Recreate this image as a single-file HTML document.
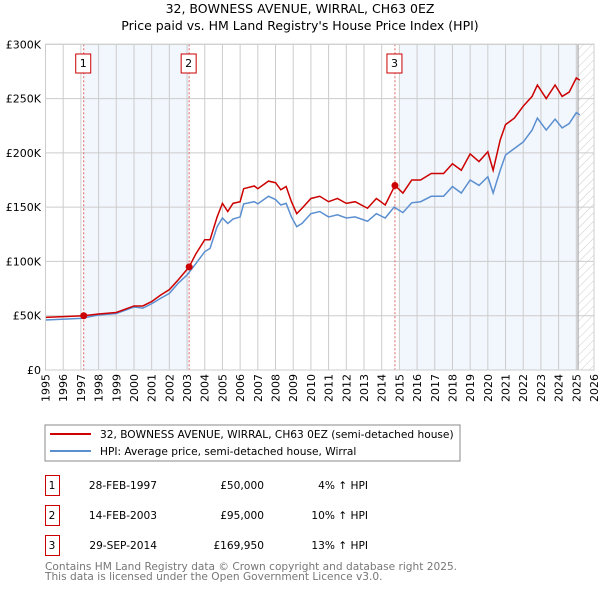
<!DOCTYPE html>
<html><head><meta charset="utf-8"><style>
body{margin:0;background:#fff;width:600px;height:590px;overflow:hidden;font-family:"DejaVu Sans","Liberation Sans",sans-serif}
svg text{font-family:"DejaVu Sans","Liberation Sans",sans-serif}
</style></head><body>
<svg id="c" width="600" height="590" viewBox="0 0 600 590">
<defs><pattern id="hatch" width="6" height="6" patternUnits="userSpaceOnUse" patternTransform="rotate(45)"><line x1="0" y1="0" x2="0" y2="6" stroke="#ccc" stroke-width="1"/></pattern></defs>
<text x="300" y="13" text-anchor="middle" font-size="12.5">32, BOWNESS AVENUE, WIRRAL, CH63 0EZ</text>
<text x="300" y="30" text-anchor="middle" font-size="12.5">Price paid vs. HM Land Registry's House Price Index (HPI)</text>
<g id="plot"></g>
<rect x="45" y="425" width="415" height="36" fill="none" stroke="#888"/>
<line x1="50" y1="434" x2="91" y2="434" stroke="#cc0000" stroke-width="2"/>
<text x="100" y="438" font-size="10.6">32, BOWNESS AVENUE, WIRRAL, CH63 0EZ (semi-detached house)</text>
<line x1="50" y1="451" x2="91" y2="451" stroke="#5b8fd0" stroke-width="2"/>
<text x="100" y="455" font-size="10.6">HPI: Average price, semi-detached house, Wirral</text>
<g id="tbl" font-size="10.6"></g>
<text x="45" y="570" font-size="10.6" fill="#777">Contains HM Land Registry data © Crown copyright and database right 2025.</text>
<text x="45" y="580" font-size="10.6" fill="#777">This data is licensed under the Open Government Licence v3.0.</text>
</svg>
<script>
const yearTicks=[1995,1996,1997,1998,1999,2000,2001,2002,2003,2004,2005,2006,2007,2008,2009,2010,2011,2012,2013,2014,2015,2016,2017,2018,2019,2020,2021,2022,2023,2024,2025,2026];
const valueTicks=[0,50,100,150,200,250,300];
const valueLabels=["£0","£50K","£100K","£150K","£200K","£250K","£300K"];
const hpiYears=[1995,1997,1998,1999,2000,2000.5,2001,2001.5,2002,2002.5,2003,2003.5,2004,2004.3,2004.7,2005,2005.3,2005.6,2006,2006.2,2006.8,2007,2007.6,2008,2008.3,2008.6,2008.9,2009.2,2009.5,2010,2010.5,2011,2011.5,2012,2012.5,2013.2,2013.7,2014.2,2014.7,2015.2,2015.7,2016.2,2016.8,2017.5,2018,2018.5,2019,2019.5,2020,2020.3,2020.7,2021,2021.5,2022,2022.5,2022.8,2023.3,2023.8,2024.2,2024.6,2025,2025.2];
const hpiValues=[46,47.6,50.7,52,58,57,61,66,70.6,80,87.5,98,109,112,132,140,135,139,141,153,155,153,160,157,152,153.5,141,132,135,144,146,141,143,140,141,137,144,140,150,145,154,155,160,160,169,163,175,170,178,163,184,198,204,210,221,232,221,231,223,227,237,235];
const propYears=[1995,1997.16,1998,1999,2000,2000.5,2001,2001.5,2002,2002.5,2003.12,2003.5,2004,2004.3,2004.7,2005,2005.3,2005.6,2006,2006.2,2006.8,2007,2007.6,2008,2008.3,2008.6,2008.9,2009.2,2009.5,2010,2010.5,2011,2011.5,2012,2012.5,2013.2,2013.7,2014.2,2014.75,2015.2,2015.7,2016.2,2016.8,2017.5,2018,2018.5,2019,2019.5,2020,2020.3,2020.7,2021,2021.5,2022,2022.5,2022.8,2023.3,2023.8,2024.2,2024.6,2025,2025.2];
const propValues=[48.5,50,51.6,53,59,59,63,69,74,83,95,107,120,120,141,153.5,146,153.5,155,167,169.5,167,174,172.5,166,169,155,144,149,158,160,155,158,153.5,155,149,158,152,170,163,175,175,181,181,190,184,199,192,201,184,212,226,232,243,252,262.5,250,262.5,252,256,269,267];
const saleLabels=["1","2","3"];
const saleYears=[1997.16,2003.12,2014.75];
const saleValues=[50,95,169.95];
const saleDates=["28-FEB-1997","14-FEB-2003","29-SEP-2014"];
const salePrices=["£50,000","£95,000","£169,950"];
const saleDiffs=["4% ↑ HPI","10% ↑ HPI","13% ↑ HPI"];

const NS="http://www.w3.org/2000/svg";
const X0=45.5,X1=594,Y0=370,Y1=44.3;
const xs=y=>X0+(y-1995)/(2026-1995)*(X1-X0);
const ys=v=>Y0-v/300*(Y0-Y1);
const plot=document.getElementById('plot');
function mk(tag,at,parent){const e=document.createElementNS(NS,tag);for(const k in at)e.setAttribute(k,at[k]);(parent||plot).appendChild(e);return e;}
let e;
e=mk('rect',{x:xs(saleYears[0]),y:Y1,width:xs(saleYears[1])-xs(saleYears[0]),height:Y0-Y1,fill:'#f2f6fd'});


e=mk('rect',{x:xs(2015),y:Y1,width:xs(2025.1)-xs(2015),height:Y0-Y1,fill:'#f2f6fd'});


e=mk('rect',{x:xs(2025.1),y:Y1,width:X1-xs(2025.1),height:Y0-Y1,fill:'url(#hatch)'});


yearTicks.forEach(yr=>{
  e=mk('line',{x1:xs(yr),x2:xs(yr),y1:Y1,y2:Y0,stroke:'#ccc'});
  
  
  const t=mk('text',{transform:`translate(${xs(yr)+4},${Y0+4}) rotate(-90)`,'text-anchor':'end','font-size':'11'});
  t.textContent=yr;
  
  
});
valueTicks.forEach((v,i)=>{
  e=mk('line',{x1:X0,x2:X1,y1:ys(v),y2:ys(v),stroke:'#ccc'});
  
  
  const t=mk('text',{x:41,y:ys(v)+4,'text-anchor':'end','font-size':'11'});
  t.textContent=valueLabels[i];
  
  
});
e=mk('line',{x1:xs(2025.1),x2:xs(2025.1),y1:Y1,y2:Y0,stroke:'#999'});


saleYears.forEach((yr,i)=>{
  e=mk('line',{x1:xs(yr),x2:xs(yr),y1:Y1,y2:Y0,stroke:'#e06060','stroke-dasharray':'2,2'});
  
  
  e=mk('rect',{x:xs(yr)-8,y:54,width:15,height:19,fill:'#fff',stroke:'#cc0000'});
  
  
  const t=mk('text',{x:xs(yr)-0.5,y:67,'text-anchor':'middle','font-size':'11'});
  t.textContent=saleLabels[i];
  
  
});
e=mk('polyline',{points:hpiYears.map((y,i)=>xs(y)+','+ys(hpiValues[i])).join(' '),fill:'none',stroke:'#5b8fd0','stroke-width':1.5});


e=mk('polyline',{points:propYears.map((y,i)=>xs(y)+','+ys(propValues[i])).join(' '),fill:'none',stroke:'#cc0000','stroke-width':1.5});


saleYears.forEach((yr,i)=>{
  e=mk('circle',{cx:xs(yr),cy:ys(saleValues[i]),r:3.5,fill:'#cc0000'});
  
  
});
e=mk('rect',{x:X0,y:Y1,width:X1-X0,height:Y0-Y1,fill:'none',stroke:'#ccc'});


const tbl=document.getElementById('tbl');
saleLabels.forEach((l,i)=>{
  const y0=475+i*30;
  e=mk('rect',{x:45.5,y:y0+0.5,width:14,height:20,fill:'none',stroke:'#cc0000'},tbl);
  
  
  const cells=[[52,l,'middle'],[157,saleDates[i],'end'],[264,salePrices[i],'end'],[368,saleDiffs[i],'end']];
  cells.forEach(c=>{
    const t=mk('text',{x:c[0],y:y0+14,'text-anchor':c[2]},tbl);
    t.textContent=c[1];
    
    
  });
});
</script>
</body></html>
